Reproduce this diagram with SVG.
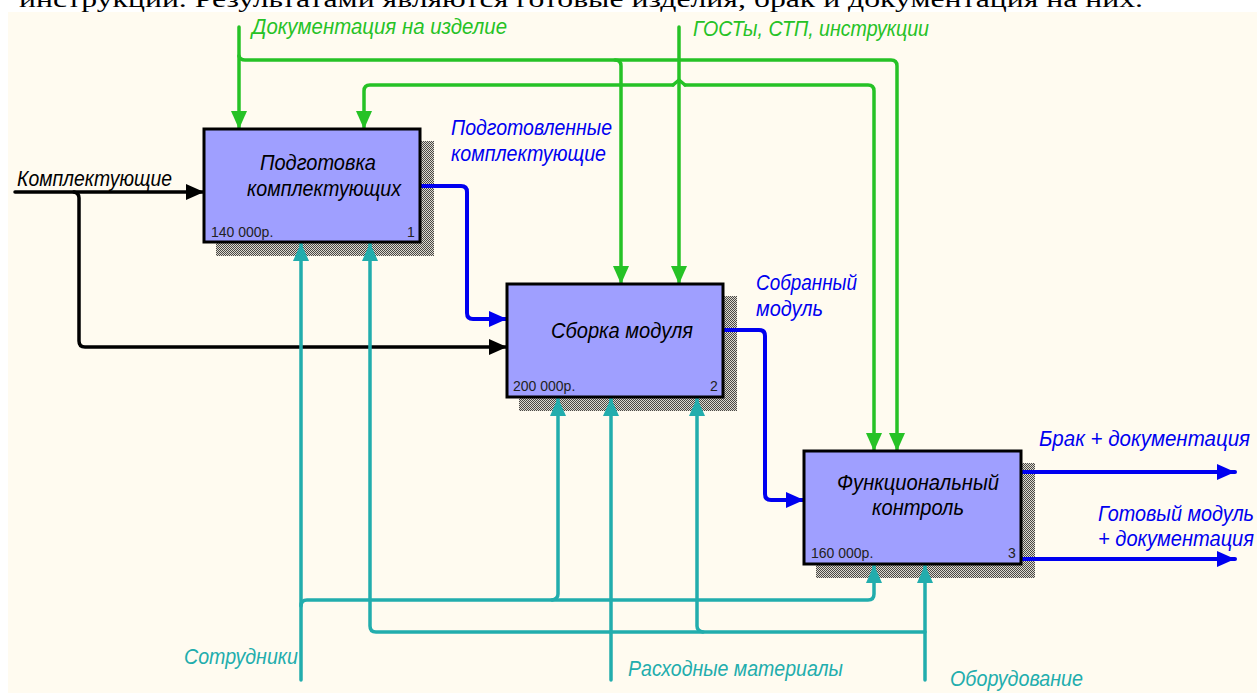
<svg xmlns="http://www.w3.org/2000/svg" width="1257" height="695" viewBox="0 0 1257 695">
<style>
.c{fill:none;stroke-width:3.5;stroke-linejoin:round;stroke-linecap:round}
.g{stroke:#26c226}.b{stroke:#0000f0;stroke-width:4}.k{stroke:#000}.t{stroke:#22adad}
.l{font-family:"Liberation Sans Narrow","Liberation Sans",sans-serif;font-style:italic;font-size:22px}
.lg{fill:#26c226}.lb{fill:#0000f0}.lk{fill:#000}.lt{fill:#22adad}
.n{fill:#9f9fff;stroke:#000;stroke-width:3}
.s{fill:url(#ht)}
.m{font-family:"Liberation Sans",Arial,sans-serif;font-size:14px;fill:#222}
.p{font-family:"Liberation Serif","Times New Roman",serif;font-size:23px;fill:#000}
</style>
<defs>
<pattern id="ht" width="2" height="2" patternUnits="userSpaceOnUse"><rect width="2" height="2" fill="#dcd9d0"/><rect width="1" height="1" fill="#4a4844"/><rect x="1" y="1" width="1" height="1" fill="#4a4844"/></pattern>
<marker id="ag" markerUnits="userSpaceOnUse" markerWidth="20" markerHeight="20" refX="18" refY="9" orient="auto"><path d="M0 1L18 9L0 17z" fill="#26c226"/></marker>
<marker id="ab" markerUnits="userSpaceOnUse" markerWidth="20" markerHeight="20" refX="18" refY="9" orient="auto"><path d="M0 1L18 9L0 17z" fill="#0000f0"/></marker>
<marker id="ak" markerUnits="userSpaceOnUse" markerWidth="20" markerHeight="20" refX="18" refY="9" orient="auto"><path d="M0 1L18 9L0 17z" fill="#000"/></marker>
<marker id="at" markerUnits="userSpaceOnUse" markerWidth="20" markerHeight="20" refX="18" refY="9" orient="auto"><path d="M0 1L18 9L0 17z" fill="#22adad"/></marker>
</defs>
<rect width="1257" height="695" fill="#fff"/>
<rect x="8" y="12" width="1249" height="681" fill="#fffbf0"/>
<text class="p" x="19" y="7" textLength="1124" lengthAdjust="spacingAndGlyphs">инструкции. Результатами являются готовые изделия, брак и документация на них.</text>
<g id="shadows">
<rect class="s" x="216" y="141" width="218" height="115"/>
<rect class="s" x="519" y="296" width="218" height="115"/>
<rect class="s" x="816" y="463" width="219" height="115"/>
</g>
<g id="connectors">
<path class="c g" marker-end="url(#ag)" d="M239 27V129"/>
<path class="c g" marker-end="url(#ag)" d="M239 56Q240 60 245 60H891Q897 60 897 66V451"/>
<path class="c g" marker-end="url(#ag)" d="M615 60Q621 60 621 66V284"/>
<path class="c g" marker-end="url(#ag)" d="M679 27V284"/>
<path class="c g" marker-end="url(#ag)" d="M673 85H370Q364 85 364 91V129"/>
<path class="c g" marker-end="url(#ag)" d="M685 85H868Q874 85 874 91V451"/>
<path class="c g" d="M673 85L679 80L685 85"/>
<path class="c b" marker-end="url(#ab)" d="M420 186H461Q467 186 467 192V313Q467 319 473 319H507"/>
<path class="c b" marker-end="url(#ab)" d="M723 330H759Q765 330 765 336V494Q765 500 771 500H804"/>
<path class="c b" marker-end="url(#ab)" d="M1021 472H1235"/>
<path class="c b" marker-end="url(#ab)" d="M1021 559H1235"/>
<path class="c k" marker-end="url(#ak)" d="M15 192H204"/>
<path class="c k" marker-end="url(#ak)" d="M74 192Q79 193 79 198V341Q79 347 85 347H507"/>
<path class="c t" marker-end="url(#at)" d="M301 680V243"/>
<path class="c t" marker-end="url(#at)" d="M301 606Q301 600 307 600H868Q874 600 874 594V565"/>
<path class="c t" marker-end="url(#at)" d="M552 600Q558 599 558 594V398"/>
<path class="c t" marker-end="url(#at)" d="M611 680V398"/>
<path class="c t" marker-end="url(#at)" d="M925 680V565"/>
<path class="c t" marker-end="url(#at)" d="M925 632H376Q370 632 370 626V243"/>
<path class="c t" marker-end="url(#at)" d="M703 632Q697 631 697 626V398"/>
</g>
<g id="node1">
<rect class="n" x="204" y="129" width="216" height="113"/>
<text class="l lk" x="318" y="170" text-anchor="middle" textLength="116" lengthAdjust="spacingAndGlyphs">Подготовка</text>
<text class="l lk" x="324" y="196" text-anchor="middle" textLength="154" lengthAdjust="spacingAndGlyphs">комплектующих</text>
<text class="m" x="211" y="237">140 000р.</text><text class="m" x="407" y="237">1</text>
</g>
<g id="node2">
<rect class="n" x="507" y="284" width="216" height="113"/>
<text class="l lk" x="622" y="338" text-anchor="middle" textLength="142" lengthAdjust="spacingAndGlyphs">Сборка модуля</text>
<text class="m" x="513" y="391">200 000р.</text><text class="m" x="710" y="391">2</text>
</g>
<g id="node3">
<rect class="n" x="804" y="451" width="217" height="113"/>
<text class="l lk" x="918" y="490" text-anchor="middle" textLength="162" lengthAdjust="spacingAndGlyphs">Функциональный</text>
<text class="l lk" x="918" y="515" text-anchor="middle" textLength="92" lengthAdjust="spacingAndGlyphs">контроль</text>
<text class="m" x="811" y="558">160 000р.</text><text class="m" x="1008" y="558">3</text>
</g>
<g id="labels">
<text class="l lg" x="252" y="34" textLength="255" lengthAdjust="spacingAndGlyphs">Документация на изделие</text>
<text class="l lg" x="693" y="36" textLength="236" lengthAdjust="spacingAndGlyphs">ГОСТы, СТП, инструкции</text>
<text class="l lk" x="17" y="186" textLength="155" lengthAdjust="spacingAndGlyphs">Комплектующие</text>
<text class="l lb" x="451" y="135" textLength="161" lengthAdjust="spacingAndGlyphs">Подготовленные</text>
<text class="l lb" x="451" y="161" textLength="155" lengthAdjust="spacingAndGlyphs">комплектующие</text>
<text class="l lb" x="756" y="290" textLength="101" lengthAdjust="spacingAndGlyphs">Собранный</text>
<text class="l lb" x="756" y="316" textLength="67" lengthAdjust="spacingAndGlyphs">модуль</text>
<text class="l lb" x="1039" y="446" textLength="211" lengthAdjust="spacingAndGlyphs">Брак + документация</text>
<text class="l lb" x="1098" y="521" textLength="156" lengthAdjust="spacingAndGlyphs">Готовый модуль</text>
<text class="l lb" x="1098" y="546" textLength="156" lengthAdjust="spacingAndGlyphs">+ документация</text>
<text class="l lt" x="184" y="664" textLength="114" lengthAdjust="spacingAndGlyphs">Сотрудники</text>
<text class="l lt" x="628" y="676" textLength="215" lengthAdjust="spacingAndGlyphs">Расходные материалы</text>
<text class="l lt" x="950" y="686" textLength="133" lengthAdjust="spacingAndGlyphs">Оборудование</text>
</g>
</svg>
